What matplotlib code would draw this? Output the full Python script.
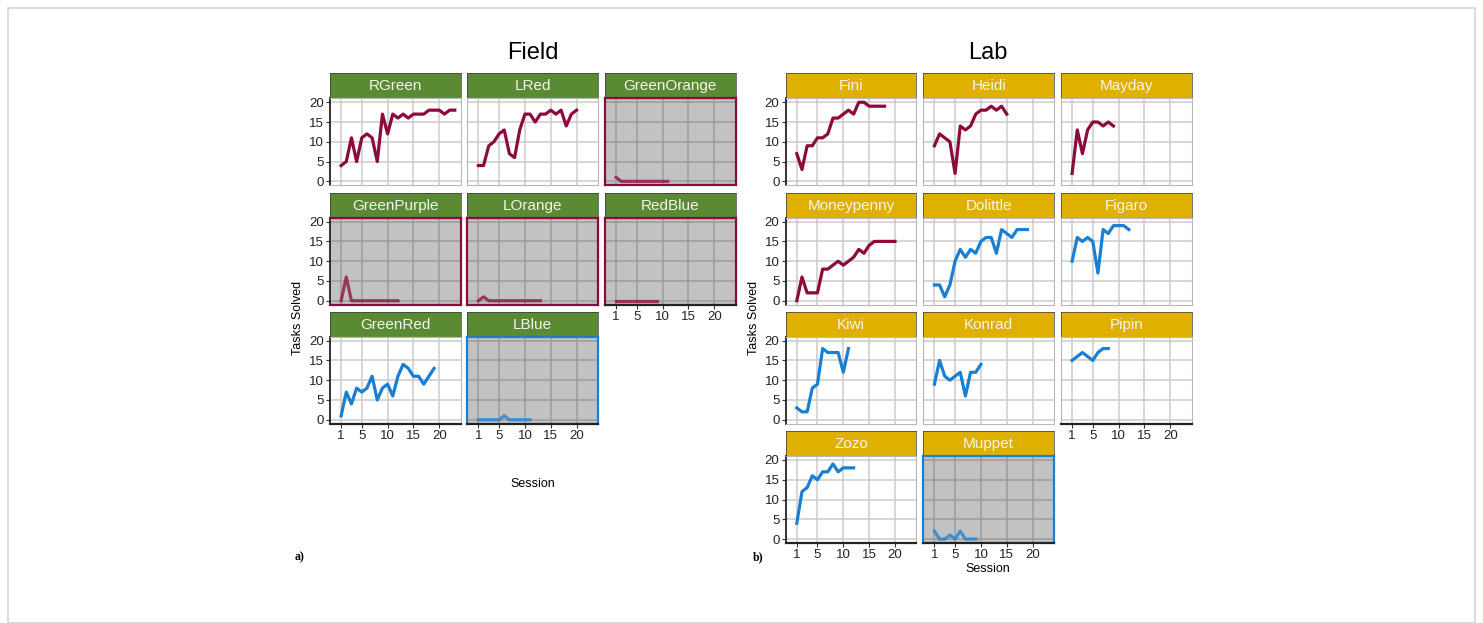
import matplotlib
matplotlib.use("Agg")
import numpy as np
import matplotlib.pyplot as plt
from matplotlib.patches import Rectangle

# -----------------------------------------
# Data: tasks solved per session
# -----------------------------------------
rgreen = [4, 5, 11, 5, 11, 12, 11, 5, 17, 12, 17, 16, 17, 16, 17, 17, 17, 18, 18, 18, 17, 18, 18]
lred = [4, 4, 9, 10, 12, 13, 7, 6, 13, 17, 17, 15, 17, 17, 18, 17, 18, 14, 17, 18]
greenorange = [1, 0, 0, 0, 0, 0, 0, 0, 0, 0, 0]
greenpurple = [0, 6, 0, 0, 0, 0, 0, 0, 0, 0, 0, 0]
lorange = [0, 1, 0, 0, 0, 0, 0, 0, 0, 0, 0, 0, 0]
redblue = [0, 0, 0, 0, 0, 0, 0, 0, 0]
greenred = [1, 7, 4, 8, 7, 8, 11, 5, 8, 9, 6, 11, 14, 13, 11, 11, 9, 11, 13]
lblue = [0, 0, 0, 0, 0, 1, 0, 0, 0, 0, 0]

fini = [7, 3, 9, 9, 11, 11, 12, 16, 16, 17, 18, 17, 20, 20, 19, 19, 19, 19]
heidi = [9, 12, 11, 10, 2, 14, 13, 14, 17, 18, 18, 19, 18, 19, 17]
mayday = [2, 13, 7, 13, 15, 15, 14, 15, 14]
moneypenny = [0, 6, 2, 2, 2, 8, 8, 9, 10, 9, 10, 11, 13, 12, 14, 15, 15, 15, 15, 15]
dolittle = [4, 4, 1, 4, 10, 13, 11, 13, 12, 15, 16, 16, 12, 18, 17, 16, 18, 18, 18]
figaro = [10, 16, 15, 16, 15, 7, 18, 17, 19, 19, 19, 18]
kiwi = [3, 2, 2, 8, 9, 18, 17, 17, 17, 12, 18]
konrad = [9, 15, 11, 10, 11, 12, 6, 12, 12, 14]
pipin = [15, 16, 17, 16, 15, 17, 18, 18]
zozo = [4, 12, 13, 16, 15, 17, 17, 19, 17, 18, 18, 18]
muppet = [2, 0, 0, 1, 0, 2, 0, 0, 0]

field_names = ["RGreen", "LRed", "GreenOrange", "GreenPurple", "LOrange",
               "RedBlue", "GreenRed", "LBlue"]
field_series = [rgreen, lred, greenorange, greenpurple, lorange, redblue, greenred, lblue]
field_group = ["red", "red", "red", "red", "red", "red", "blue", "blue"]
field_dropped = [False, False, True, True, True, True, False, True]

lab_names = ["Fini", "Heidi", "Mayday", "Moneypenny", "Dolittle", "Figaro",
             "Kiwi", "Konrad", "Pipin", "Zozo", "Muppet"]
lab_series = [fini, heidi, mayday, moneypenny, dolittle, figaro, kiwi, konrad, pipin, zozo, muppet]
lab_group = ["red", "red", "red", "red", "blue", "blue", "blue", "blue", "blue", "blue", "blue"]
lab_dropped = [False] * 10 + [True]

x_ticks = [1, 5, 10, 15, 20]
y_ticks = [0, 5, 10, 15, 20]

# -----------------------------------------
# Style / layout (pixels)
# -----------------------------------------
W, H = 1483, 623
LINE_COLORS = {"red": "#8c0a3c", "blue": "#1a7fd2"}
FIELD_STRIP = "#5b8a34"
LAB_STRIP = "#e0b000"
PW, STRIP, PH = 130.7, 25.0, 87.0
ROW_TOP = [73.3, 192.7, 311.7, 431.0]
FIELD_COLS = [330.0, 467.3, 605.0]
LAB_COLS = [785.7, 923.3, 1061.0]

plt.rcParams["font.family"] = ["Liberation Sans", "DejaVu Sans"]

fig = plt.figure(figsize=(W / 100, H / 100), dpi=100)
fig.patches.append(Rectangle((8 / W, 0 / H), 1467 / W, 615 / H, transform=fig.transFigure,
                             fill=False, edgecolor="#d6d6d6", linewidth=1.2))


def px_box(left, top, width, height):
    return [left / W, 1 - (top + height) / H, width / W, height / H]


def draw_panel(left, top, name, values, color, dropped, strip_color, show_x, show_y):
    # strip
    sax = fig.add_axes(px_box(left, top, PW, STRIP))
    sax.set_facecolor(strip_color)
    sax.set_xticks([])
    sax.set_yticks([])
    for sp in sax.spines.values():
        sp.set_color("#3a3a3a")
        sp.set_linewidth(0.5)
    sax.text(0.5, 0.48, name, ha="center", va="center", color="#f4f4ee",
             fontsize=11, transform=sax.transAxes)

    ax = fig.add_axes(px_box(left, top + STRIP, PW, PH))
    sessions = np.arange(1, len(values) + 1)
    if dropped:
        ax.set_facecolor("#c2c2c2")
        grid_col = "#9c9c9c"
        line_alpha = 0.75
    else:
        ax.set_facecolor("white")
        grid_col = "#cccccc"
        line_alpha = 1.0
    ax.plot(sessions, values, color=color, linewidth=2.3, alpha=line_alpha,
            solid_joinstyle="round", zorder=3)
    ax.set_xlim(-1.15, 24.15)
    ax.set_ylim(-1, 21)
    ax.set_xticks(x_ticks)
    ax.set_yticks(y_ticks)
    ax.grid(True, color=grid_col, linewidth=1.1)
    ax.set_axisbelow(True)

    for sp in ax.spines.values():
        if dropped:
            sp.set_color(color)
            sp.set_linewidth(1.6)
        else:
            sp.set_color("#b8b8b8")
            sp.set_linewidth(0.8)
    if show_y:
        ax.spines["left"].set_color("#222222")
        ax.spines["left"].set_linewidth(1.3)
    if show_x:
        ax.spines["bottom"].set_color("#222222")
        ax.spines["bottom"].set_linewidth(1.6)

    ax.tick_params(axis="both", length=3, width=0.8, color="#333333",
                   labelsize=9.5, labelcolor="#222222", pad=1.5)
    ax.tick_params(axis="x", bottom=show_x, labelbottom=show_x)
    ax.tick_params(axis="y", left=show_y, labelleft=show_y)
    return ax


def draw_group(names, series, groups, dropped, cols, strip_color, bottom_idx):
    for i, name in enumerate(names):
        r, c = divmod(i, 3)
        draw_panel(cols[c], ROW_TOP[r], name, series[i], LINE_COLORS[groups[i]],
                   dropped[i], strip_color, show_x=(i in bottom_idx), show_y=(c == 0))


draw_group(field_names, field_series, field_group, field_dropped, FIELD_COLS, FIELD_STRIP,
           bottom_idx={5, 6, 7})
draw_group(lab_names, lab_series, lab_group, lab_dropped, LAB_COLS, LAB_STRIP,
           bottom_idx={8, 9, 10})

# titles and labels
fig.text(533 / W, 1 - 53 / H, "Field", ha="center", va="center", fontsize=17)
fig.text(988 / W, 1 - 53 / H, "Lab", ha="center", va="center", fontsize=17)
fig.text(298 / W, 1 - 318 / H, "Tasks Solved", rotation=90, ha="center", va="center", fontsize=9)
fig.text(754 / W, 1 - 318 / H, "Tasks Solved", rotation=90, ha="center", va="center", fontsize=9)
fig.text(533 / W, 1 - 484 / H, "Session", ha="center", va="center", fontsize=9)
fig.text(988 / W, 1 - 569 / H, "Session", ha="center", va="center", fontsize=9)
fig.text(300 / W, 1 - 557 / H, "a)", ha="center", va="center", fontsize=8.5,
         family=["Liberation Serif", "DejaVu Serif"], weight="bold")
fig.text(758 / W, 1 - 557 / H, "b)", ha="center", va="center", fontsize=8.5,
         family=["Liberation Serif", "DejaVu Serif"], weight="bold")

fig.savefig("out.png", dpi=100)
